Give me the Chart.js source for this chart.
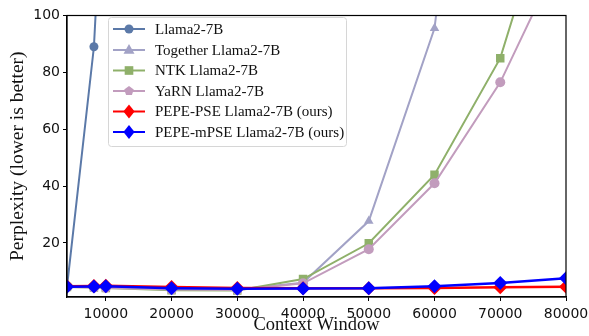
<!DOCTYPE html>
<html>
<head>
<meta charset="utf-8">
<script src="https://cdn.jsdelivr.net/npm/chart.js@4/dist/chart.umd.min.js"></script>
<style>
  html, body { margin: 0; padding: 0; background: #fff; }
  #wrap { width: 589px; height: 336px; }
</style>
</head>
<body>
<div id="wrap"><canvas id="pplChart"></canvas></div>
<script>
const contextWindows = [4096, 8192, 10000, 20000, 30000, 40000, 50000, 60000, 70000, 80000];
const llamaPpl    = [4.6, 89, 170, null, null, null, null, null, null, null];
const togetherPpl = [4.6, 4.5, 4.4, 3.8, 3.6, 6.0, 27.7, 95.5, 290, null];
const ntkPpl      = [4.5, 4.3, 4.2, 3.4, 3.3, 7.3, 19.9, 44, 85, 160];
const yarnPpl     = [4.5, 4.3, 4.2, 3.6, 3.5, 5.8, 17.8, 41, 76.5, 125];
const psePpl      = [4.8, 4.9, 5.0, 4.5, 4.2, 4.1, 4.1, 4.2, 4.4, 4.6];
const mpsePpl     = [4.6, 4.7, 4.8, 4.1, 3.9, 4.0, 4.1, 4.8, 5.9, 7.6];
const xTicks = [10000, 20000, 30000, 40000, 50000, 60000, 70000, 80000];
const yTicks = [20, 40, 60, 80, 100];

function pts(arr) {
    return contextWindows.map((x, i) => ({ x: x, y: arr[i] }));
}

function series(label, arr, color, style, radius, width, order) {
    return {
        label: label,
        data: pts(arr),
        borderColor: color,
        backgroundColor: color,
        borderWidth: width,
        pointStyle: style,
        pointRadius: radius,
        pointHoverRadius: radius,
        pointBorderWidth: 0,
        spanGaps: false,
        order: order
    };
}

// draw a marker by hand for the legend
function marker(ctx, style, x, y, r, color) {
    ctx.save();
    ctx.fillStyle = color;
    ctx.beginPath();
    if (style === 'circle') {
        ctx.arc(x, y, r, 0, Math.PI * 2);
    } else if (style === 'triangle') {
        ctx.moveTo(x, y - r * 1.1);
        ctx.lineTo(x + r, y + r * 0.7);
        ctx.lineTo(x - r, y + r * 0.7);
        ctx.closePath();
    } else if (style === 'rect') {
        ctx.rect(x - r * 0.72, y - r * 0.72, r * 1.44, r * 1.44);
    } else if (style === 'rectRot') {
        ctx.moveTo(x, y - r);
        ctx.lineTo(x + r * 0.8, y);
        ctx.lineTo(x, y + r);
        ctx.lineTo(x - r * 0.8, y);
        ctx.closePath();
    } else if (style === 'pentagon') {
        for (let k = 0; k < 5; k++) {
            let a = -Math.PI / 2 + k * 2 * Math.PI / 5;
            ctx.lineTo(x + r * Math.cos(a), y + r * Math.sin(a));
        }
        ctx.closePath();
    }
    ctx.fill();
    ctx.restore();
}

const framePlugin = {
    id: 'frame',
    afterDatasetsDraw(chart) {
        const a = chart.chartArea;
        const ctx = chart.ctx;
        ctx.save();
        ctx.strokeStyle = '#000';
        ctx.lineWidth = 1.2;
        ctx.strokeRect(a.left, a.top, a.right - a.left, a.bottom - a.top);
        ctx.restore();
    }
};

const legendPlugin = {
    id: 'boxLegend',
    afterDraw(chart) {
        const ctx = chart.ctx;
        const bx = 108, by = 17, bw = 238, bh = 129;
        ctx.save();
        ctx.fillStyle = 'rgba(255,255,255,0.85)';
        ctx.strokeStyle = '#d6d6d6';
        ctx.lineWidth = 1;
        ctx.beginPath();
        ctx.roundRect(bx + 0.5, by + 0.5, bw, bh, 3);
        ctx.fill();
        ctx.stroke();
        const rowY = [29, 50, 70.5, 91, 111.5, 132];
        const legendShape = { circle: 4.5, triangle: 5.5, rect: 6, pentagon: 5, rectRot: 7 };
        ctx.font = '15px "Liberation Serif", "Times New Roman", serif';
        ctx.textBaseline = 'middle';
        chart.data.datasets.forEach((ds, i) => {
            const y = rowY[i];
            ctx.strokeStyle = ds.borderColor;
            ctx.lineWidth = 2;
            ctx.beginPath();
            ctx.moveTo(113, y);
            ctx.lineTo(145, y);
            ctx.stroke();
            marker(ctx, ds.pointStyle, 129, y, legendShape[ds.pointStyle], ds.borderColor);
            ctx.fillStyle = '#111';
            ctx.fillText(ds.label, 155, y + 1);
        });
        ctx.restore();
    }
};

const tickFont = { family: '"DejaVu Sans", sans-serif', size: 14 };

new Chart(document.getElementById('pplChart').getContext('2d'), {
    type: 'line',
    data: {
        datasets: [
            series('Llama2-7B', llamaPpl, '#5b79a8', 'circle', 4.5, 2, 5),
            series('Together Llama2-7B', togetherPpl, '#a2a2c6', 'triangle', 5.5, 2, 4),
            series('NTK Llama2-7B', ntkPpl, '#8fb06a', 'rect', 6, 2, 3),
            series('YaRN Llama2-7B', yarnPpl, '#c29cbd', 'pentagon', 5, 2, 2),
            series('PEPE-PSE Llama2-7B (ours)', psePpl, '#ff0000', 'rectRot', 7, 2.5, 1),
            series('PEPE-mPSE Llama2-7B (ours)', mpsePpl, '#0000ff', 'rectRot', 7, 2.5, 0)
        ]
    },
    options: {
        responsive: true,
        maintainAspectRatio: false,
        animation: false,
        layout: { padding: { top: 15.5, right: 23, left: 0, bottom: 0 } },
        plugins: {
            legend: { display: false },
            tooltip: { enabled: false }
        },
        scales: {
            x: {
                type: 'linear',
                min: 4096,
                max: 80000,
                afterBuildTicks: (axis) => { axis.ticks = xTicks.map(v => ({ value: v })); },
                afterFit: (axis) => { axis.height = 39; axis.paddingRight = 0; axis.paddingLeft = 0; },
                ticks: { color: '#111', font: tickFont, padding: 5, maxRotation: 0, callback: (v) => String(v) },
                grid: { display: true, drawOnChartArea: false, drawTicks: true, tickLength: 4, color: '#000' },
                border: { display: true, color: '#000', width: 1.2 },
                title: { display: true, text: 'Context Window', color: '#111',
                         font: { family: '"Liberation Serif", serif', size: 18.5 }, padding: { top: -2, bottom: 0 } }
            },
            y: {
                type: 'linear',
                min: 1,
                max: 100,
                afterBuildTicks: (axis) => { axis.ticks = yTicks.map(v => ({ value: v })); },
                afterFit: (axis) => { axis.width = 67; axis.paddingTop = 0; axis.paddingBottom = 0; },
                ticks: { color: '#111', font: tickFont, padding: 3 },
                grid: { display: true, drawOnChartArea: false, drawTicks: true, tickLength: 4, color: '#000' },
                border: { display: true, color: '#000', width: 1.2 },
                title: { display: true, text: 'Perplexity (lower is better)', color: '#111',
                         font: { family: '"Liberation Serif", serif', size: 19.5 }, padding: { top: 6, bottom: 0 } }
            }
        }
    },
    plugins: [framePlugin, legendPlugin]
});
</script>
</body>
</html>
